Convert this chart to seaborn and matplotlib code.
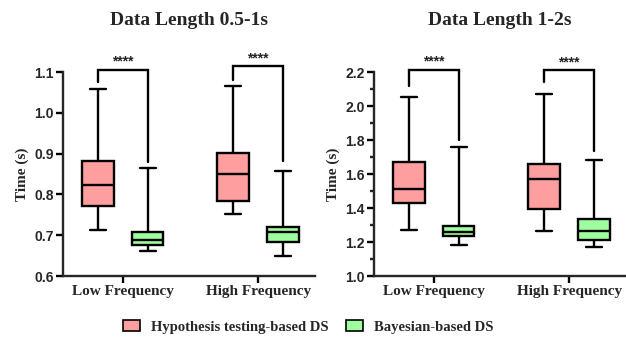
import matplotlib
matplotlib.use("Agg")
import matplotlib.pyplot as plt
from matplotlib.patches import Patch
import seaborn as sns
import pandas as pd

# ---------------- data ----------------
categories = ["Low Frequency", "High Frequency"]
methods = ["Hypothesis testing-based DS", "Bayesian-based DS"]
titles = ["Data Length 0.5-1s", "Data Length 1-2s"]

# five-number summaries: min, q1, median, q3, max
short_hyp_low = [0.712, 0.772, 0.822, 0.881, 1.058]
short_bay_low = [0.662, 0.675, 0.689, 0.709, 0.864]
short_hyp_high = [0.752, 0.784, 0.851, 0.902, 1.065]
short_bay_high = [0.650, 0.683, 0.708, 0.719, 0.858]

long_hyp_low = [1.273, 1.431, 1.513, 1.673, 2.055]
long_bay_low = [1.183, 1.234, 1.256, 1.296, 1.757]
long_hyp_high = [1.263, 1.394, 1.570, 1.660, 2.069]
long_bay_high = [1.170, 1.212, 1.267, 1.335, 1.681]

# significance brackets: top, left-leg bottom, right-leg bottom (per category)
short_br_top = [1.106, 1.114]
short_br_left = [1.076, 1.081]
short_br_right = [0.880, 0.882]
long_br_top = [2.213, 2.210]
long_br_left = [2.120, 2.140]
long_br_right = [1.800, 1.736]
sig_label = "****"

colors = ["#FF9E9E", "#9EFF9E"]

def make_df(hl, bl, hh, bh):
    rows = []
    for cat, meth, vals in [(categories[0], methods[0], hl), (categories[0], methods[1], bl),
                            (categories[1], methods[0], hh), (categories[1], methods[1], bh)]:
        for v in vals:
            rows.append({"freq": cat, "method": meth, "time": v})
    return pd.DataFrame(rows)

dfs = [make_df(short_hyp_low, short_bay_low, short_hyp_high, short_bay_high),
       make_df(long_hyp_low, long_bay_low, long_hyp_high, long_bay_high)]
brackets = [(short_br_top, short_br_left, short_br_right),
            (long_br_top, long_br_left, long_br_right)]
ylims = [(0.6, 1.1), (1.0, 2.2)]
yticks = [[0.6, 0.7, 0.8, 0.9, 1.0, 1.1], [1.0, 1.2, 1.4, 1.6, 1.8, 2.0, 2.2]]

sns.set_style("ticks")
serif = "Liberation Serif"
sans = "Liberation Sans"

fig = plt.figure(figsize=(6.26, 3.39), dpi=100)
W, H = 626, 339
ax_w = 252 / W
bottom = 1 - 276 / H
height = (276 - 72) / H
axes = [fig.add_axes([63 / W, bottom, ax_w, height]),
        fig.add_axes([374 / W, bottom, ax_w, height])]

box_width = 0.736
lw = 1.7
for i, ax in enumerate(axes):
    sns.boxplot(data=dfs[i], x="freq", y="time", hue="method", order=categories,
                hue_order=methods, palette=colors, whis=(0, 100), width=box_width,
                gap=0.36, linecolor="black", linewidth=lw, legend=False, ax=ax,
                saturation=1)
    ax.set_xlim(-0.44, 1.42)
    ax.set_ylim(*ylims[i])
    ax.set_yticks(yticks[i])
    ax.set_yticklabels([f"{t:.1f}" for t in yticks[i]], fontfamily=sans,
                       fontweight="bold", fontsize=10)
    ax.set_xticks(range(len(categories)))
    ax.set_xticklabels(categories, fontfamily=serif, fontweight="bold", fontsize=11)
    ax.set_xlabel("")
    ax.set_ylabel("Time (s)", fontfamily=serif, fontweight="bold", fontsize=11, labelpad=4)
    ax.set_title(titles[i], fontfamily=serif, fontweight="bold", fontsize=14, pad=34)
    for s in ["top", "right"]:
        ax.spines[s].set_visible(False)
    for s in ["left", "bottom"]:
        ax.spines[s].set_linewidth(lw)
    ax.tick_params(axis="both", width=lw, length=5, color="black", pad=1.5)
    if i == 1:
        ax.set_yticks([1.1, 1.3, 1.5, 1.7, 1.9, 2.1], minor=True)
        ax.tick_params(axis="y", which="minor", width=lw, length=3)
    off = box_width / 4
    tops, lefts, rights = brackets[i]
    span = ylims[i][1] - ylims[i][0]
    for j in range(len(categories)):
        xl, xr = j - off, j + off
        ax.plot([xl, xl, xr, xr], [lefts[j], tops[j], tops[j], rights[j]],
                color="black", lw=lw, clip_on=False, solid_joinstyle="miter")
        ax.text(j, tops[j] + span * 0.005, sig_label, ha="center", va="bottom",
                fontsize=10, fontweight="bold", fontfamily=sans, color="#222222")

handles = [Patch(facecolor=c, edgecolor="black", linewidth=1.2) for c in colors]
fig.legend(handles, methods, loc="center", bbox_to_anchor=(0.492, 1 - 327 / H), ncol=2,
           frameon=False, prop={"family": serif, "weight": "bold", "size": 10.5},
           handlelength=1.2, handleheight=0.8, columnspacing=1.2, handletextpad=0.7)

fig.savefig("out.png", dpi=100)
